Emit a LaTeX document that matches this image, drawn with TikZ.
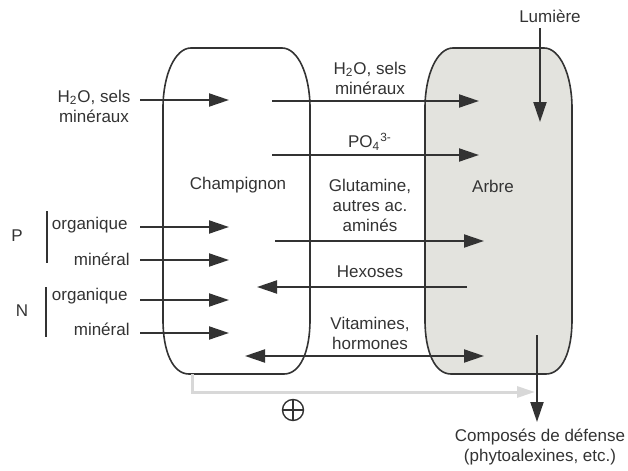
\documentclass[tikz,border=0pt]{standalone}
\usepackage{fontspec}
\setmainfont{Liberation Sans}
\usetikzlibrary{arrows.meta, positioning}
\definecolor{ink}{HTML}{333333}
\definecolor{treefill}{HTML}{E3E3DE}
\definecolor{faint}{HTML}{D8D8D8}

\begin{document}
\begin{tikzpicture}[x=0.5pt, y=-0.5pt,
  lbl/.style={font=\fontsize{8.5}{10}\selectfont, text=ink, inner sep=0pt, align=center},
  arr/.style={draw=ink, line width=1pt, -{Triangle[length=10pt, width=6.5pt]}},
  dblarr/.style={arr, {Triangle[length=10pt, width=6.5pt]}-{Triangle[length=10pt, width=6.5pt]}},
  bag/.style={draw=ink, line width=0.8pt},
  back/.style={draw=faint, line width=1.5pt, -{Triangle[length=9pt, width=5.5pt]}}
]
\useasboundingbox (0,0) rectangle (628,471);

% Partners
\path[bag, fill=treefill] (425,108) .. controls (425,75) and (437,48) .. (453,48) -- (544,48)
  .. controls (560,48) and (572,75) .. (572,108) -- (572,320)
  .. controls (572,352) and (562,374) .. (546,374) -- (451,374)
  .. controls (435,374) and (425,352) .. (425,320) -- cycle;
\path[bag] (163,108) .. controls (163,75) and (175,48) .. (191,48) -- (282,48)
  .. controls (298,48) and (310,75) .. (310,108) -- (310,320)
  .. controls (310,352) and (300,374) .. (284,374) -- (189,374)
  .. controls (173,374) and (163,352) .. (163,320) -- cycle;
\node[lbl] (champ) at (238,185) {Champignon};
\node[lbl] (arbre) at (493,186) {Arbre};

% Soil inputs
\node[lbl] (soil) at (94,106) {H\textsubscript{2}O, sels\\minéraux};
\node[lbl] (P) at (17,236) {P};
\node[lbl] (N) at (22,311) {N};
\node[lbl, anchor=east] (porg) at (128,225) {organique};
\node[lbl, anchor=east] (pmin) at (130,259) {minéral};
\node[lbl, anchor=east] (norg) at (128,296) {organique};
\node[lbl, anchor=east] (nmin) at (130,329) {minéral};
\draw[ink, line width=0.9pt] (47,211) -- (47,263);
\draw[ink, line width=0.9pt] (46,287) -- (46,337);

\coordinate (s0) at (140,100);  \coordinate (f0) at (229,100);
\coordinate (s1) at (140,227);  \coordinate (f1) at (229,227);
\coordinate (s2) at (140,260);  \coordinate (f2) at (229,260);
\coordinate (s3) at (140,300);  \coordinate (f3) at (229,300);
\coordinate (s4) at (140,333);  \coordinate (f4) at (229,333);
\foreach \i in {0,...,4}
  \draw[arr] (s\i) -- (f\i);

% Exchanges
\node[lbl] (water) at (370,78) {H\textsubscript{2}O, sels\\minéraux};
\node[lbl] (phos) at (370,142) {PO\textsubscript{4}\textsuperscript{3-}};
\node[lbl] (amino) at (370,205) {Glutamine,\\autres ac.\\aminés};
\node[lbl] (hex) at (370,272) {Hexoses};
\node[lbl] (vit) at (370,333) {Vitamines,\\hormones};

\coordinate (wa) at (272,101);  \coordinate (wb) at (479,101);
\coordinate (pa) at (272,155);  \coordinate (pb) at (479,155);
\coordinate (ga) at (275,241);  \coordinate (gb) at (484,241);
\coordinate (ha) at (467,287);  \coordinate (hb) at (257,287);
\coordinate (va) at (245,356);  \coordinate (vb) at (484,356);
\draw[arr] (wa) -- (wb);
\draw[arr] (pa) -- (pb);
\draw[arr] (ga) -- (gb);
\draw[arr] (ha) -- (hb);
\draw[dblarr] (va) -- (vb);

% Light and defence
\node[lbl] (lum) at (550,16) {Lumière};
\coordinate (lumtop) at (540,28);  \coordinate (lumend) at (540,122);
\draw[arr] (lumtop) -- (lumend);
\node[lbl] (def) at (540,447) {Composés de défense\\(phytoalexines, etc.)};
\coordinate (deftop) at (537,335);  \coordinate (defend) at (537,422);
\draw[arr] (deftop) -- (defend);

% Positive feedback
\coordinate (fb0) at (192,374);  \coordinate (fb1) at (192,392);  \coordinate (fb2) at (535,392);
\draw[back] (fb0) -- (fb1) -- (fb2);
\node[draw=ink, line width=0.7pt, circle, inner sep=0pt, minimum size=10.5pt] (plus) at (293,410) {};
\draw[ink, line width=0.7pt] (plus.north) -- (plus.south) (plus.west) -- (plus.east);

\end{tikzpicture}
\end{document}
